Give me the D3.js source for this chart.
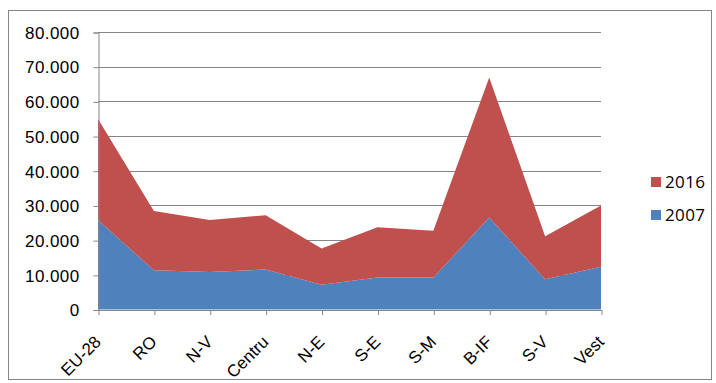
<!DOCTYPE html>
<html>
<head>
<meta charset="utf-8">
<script src="https://cdn.jsdelivr.net/npm/d3@7"></script>
<style>
  html, body { margin: 0; padding: 0; background: #fff; }
  svg { display: block; font-family: "Open Sans", "Liberation Sans", sans-serif; }
</style>
</head>
<body>
<svg id="chart" width="716" height="383"></svg>
<script>
// Regions (EU-28 average, Romania, Romanian development regions)
const categories = ["EU-28", "RO", "N-V", "Centru", "N-E", "S-E", "S-M", "B-IF", "S-V", "Vest"];
// Stacked area series: 2007 at the bottom, 2016 stacked above it
const values2007 = [25800, 11300, 10800, 11500, 7100, 9200, 9200, 26500, 8700, 12300];
const values2016 = [29100, 17100, 15000, 15700, 10500, 14500, 13500, 40400, 12400, 17700];
const yTicks = [0, 10000, 20000, 30000, 40000, 50000, 60000, 70000, 80000];
const seriesNames = ["2007", "2016"];
const seriesColors = { "2007": "#4F81BD", "2016": "#C0504D" };

const svg = d3.select("#chart");
const grey = "#868686";

// Outer chart frame
svg.append("rect")
  .attr("x", 8.5).attr("y", 10.5)
  .attr("width", 703).attr("height", 369)
  .attr("fill", "#fff").attr("stroke", grey).attr("stroke-width", 1);

const plot = { left: 98, right: 601, top: 32, bottom: 309.5 };

const x = d3.scalePoint().domain(categories).range([plot.left, plot.right]);
const y = d3.scaleLinear().domain([0, 80000]).range([plot.bottom, plot.top]);

// Horizontal gridlines
svg.append("g").selectAll("line")
  .data(yTicks.filter(t => t > 0))
  .join("line")
  .attr("x1", plot.left).attr("x2", plot.right)
  .attr("y1", d => Math.round(y(d)) + 0.5).attr("y2", d => Math.round(y(d)) + 0.5)
  .attr("stroke", grey).attr("stroke-width", 1);

// Stacked areas
const rows = categories.map((c, i) => ({ cat: c, "2007": values2007[i], "2016": values2016[i] }));
const stacked = d3.stack().keys(seriesNames)(rows);
const area = d3.area()
  .x(d => x(d.data.cat))
  .y0(d => y(d[0]))
  .y1(d => y(d[1]));

svg.append("g").selectAll("path")
  .data(stacked)
  .join("path")
  .attr("d", area)
  .attr("fill", d => seriesColors[d.key]);

// Y axis
const yAxis = d3.axisLeft(y)
  .tickValues(yTicks)
  .tickSize(5)
  .tickPadding(14)
  .tickFormat(d => d === 0 ? "0" : d3.format(",")(d).replace(/,/g, "."));
const gy = svg.append("g")
  .attr("transform", `translate(${plot.left + 0.5},0.5)`)
  .call(yAxis);
gy.select(".domain").attr("stroke", grey);
gy.selectAll(".tick line").attr("stroke", grey);
gy.selectAll(".tick text")
  .attr("fill", "#000")
  .style("font-size", "17px")
  .style("letter-spacing", "0.4px")
  .attr("dy", "0.34em");

// X axis
const xAxis = d3.axisBottom(x).tickSize(5).tickSizeOuter(0);
const gx = svg.append("g")
  .attr("transform", `translate(0.5,${Math.round(plot.bottom)})`)
  .call(xAxis);
gx.select(".domain").attr("stroke", grey);
gx.selectAll(".tick line").attr("stroke", grey);
gx.selectAll(".tick text")
  .attr("fill", "#000")
  .style("font-size", "17px")
  .attr("text-anchor", "end")
  .attr("dy", "0")
  .attr("y", 0)
  .attr("transform", "translate(3,33) rotate(-45)");

// Legend
const legend = svg.append("g");
const legendItems = [
  { name: "2016", y: 182 },
  { name: "2007", y: 215 }
];
legendItems.forEach(item => {
  legend.append("rect")
    .attr("x", 651).attr("y", item.y - 5)
    .attr("width", 10).attr("height", 10)
    .attr("fill", seriesColors[item.name]);
  legend.append("text")
    .attr("x", 665).attr("y", item.y)
    .attr("dy", "0.35em")
    .style("font-size", "17px")
    .style("letter-spacing", "0.4px")
    .attr("fill", "#000")
    .text(item.name);
});
</script>
</body>
</html>
